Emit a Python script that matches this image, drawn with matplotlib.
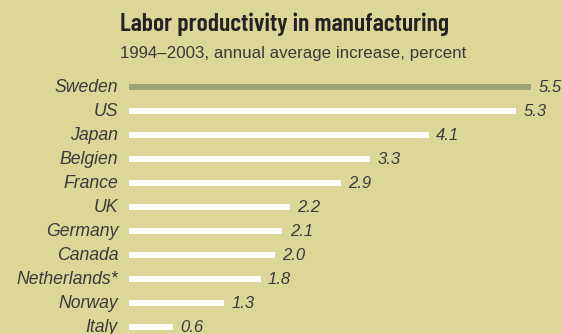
import matplotlib
matplotlib.use("Agg")
import matplotlib.pyplot as plt

countries = ["Sweden", "US", "Japan", "Belgien", "France", "UK", "Germany",
             "Canada", "Netherlands*", "Norway", "Italy"]
values = [5.5, 5.3, 4.1, 3.3, 2.9, 2.2, 2.1, 2.0, 1.8, 1.3, 0.6]
value_labels = ["5.5", "5.3", "4.1", "3.3", "2.9", "2.2", "2.1", "2.0", "1.8", "1.3", "0.6"]

bg = "#dcd799"
highlight = "#9ca374"
text_col = "#3a3a36"
label_fonts = ["Liberation Sans", "DejaVu Sans"]
title_fonts = ["Barlow Condensed", "Liberation Sans", "DejaVu Sans"]

fig = plt.figure(figsize=(5.62, 3.34), dpi=100)
fig.patch.set_facecolor(bg)

ax = fig.add_axes([129 / 562, -5 / 334, 402 / 562, 264 / 334])
ax.set_facecolor(bg)

ypos = list(range(len(countries)))
colors = [highlight] + ["white"] * (len(countries) - 1)
ax.barh(ypos, values, height=0.22, color=colors, clip_on=False)

for y, v, lab, name in zip(ypos, values, value_labels, countries):
    ax.text(v + 0.1, y, lab, va="center", ha="left", fontsize=12,
            style="italic", color=text_col, family=label_fonts, clip_on=False)
    ax.text(-0.15, y, name, va="center", ha="right", fontsize=12.7,
            style="italic", color=text_col, family=label_fonts, clip_on=False)

ax.set_xlim(0, 5.5)
ax.set_ylim(len(countries) - 0.5, -0.5)
ax.axis("off")

fig.text(120 / 562, 1 - 31 / 334, "Labor productivity in manufacturing",
         fontsize=18.5, weight="semibold", color="#222222", family=title_fonts,
         va="baseline", ha="left")
fig.text(120 / 562, 1 - 58 / 334, "1994\u20132003, annual average increase, percent",
         fontsize=12.2, color=text_col, family=label_fonts, va="baseline", ha="left")

fig.savefig("out.png", dpi=100, facecolor=bg)
